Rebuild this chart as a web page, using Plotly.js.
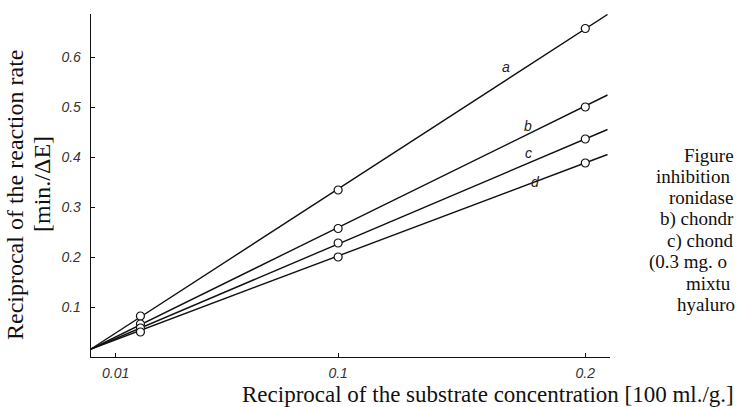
<!DOCTYPE html>
<html>
<head>
<meta charset="utf-8">
<script src="https://cdn.plot.ly/plotly-3.0.1.min.js"></script>
<style>html,body{margin:0;padding:0;background:#fff;}#chart{width:748px;height:407px;}</style>
</head>
<body>
<div id="chart"></div>
<script>
// Measured points (reciprocal substrate conc. vs reciprocal rate)
const xPoints = [0.02, 0.1, 0.2];
const seriesA = [0.082, 0.334, 0.657];
const seriesB = [0.066, 0.257, 0.500];
const seriesC = [0.058, 0.228, 0.436];
const seriesD = [0.050, 0.200, 0.388];
// Fitted straight lines (start and end of each drawn line)
const lineX = [0, 0.209];
const lineA = [0.016, 0.685];
const lineB = [0.016, 0.524];
const lineC = [0.016, 0.455];
const lineD = [0.016, 0.405];
const seriesNames = ['a', 'b', 'c', 'd'];
// label positions for the curve letters
const labelX = [0.168, 0.177, 0.177, 0.180];
const labelY = [0.580, 0.462, 0.408, 0.350];
// Tick labels
const xTickVals = [0.01, 0.1, 0.2];
const xTickText = ['0.01', '0.1', '0.2'];
const yTickVals = [0.1, 0.2, 0.3, 0.4, 0.5, 0.6];
const yTickText = ['0.1', '0.2', '0.3', '0.4', '0.5', '0.6'];
// Axis titles
const xTitle = 'Reciprocal of the substrate concentration [100 ml./g.]';
const yTitleLines = ['Reciprocal of the reaction rate', '[min./ΔE]'];
// Caption fragments visible at the right edge
const captionLines = ['Figure', 'inhibition', 'ronidase', 'b) chondr', 'c) chond', '(0.3 mg. o', 'mixtu', 'hyaluro'];
const captionX = [683, 655, 668, 659, 666, 648, 685, 676];

const lineSets = [lineA, lineB, lineC, lineD];
const pointSets = [seriesA, seriesB, seriesC, seriesD];

const tickFont = {family: '"Liberation Sans", Arimo, sans-serif', size: 14, color: '#333', style: 'italic'};
const serif = '"Liberation Serif", "DejaVu Serif", serif';

const traces = [];
lineSets.forEach((ly, i) => {
  traces.push({x: lineX, y: ly, mode: 'lines', type: 'scatter', name: seriesNames[i] + ' fit',
    line: {color: '#111', width: 1.4}, hoverinfo: 'skip', showlegend: false});
});
pointSets.forEach((py, i) => {
  traces.push({x: xPoints, y: py, mode: 'markers', type: 'scatter', name: seriesNames[i],
    marker: {symbol: 'circle', size: 8, color: '#fff', line: {color: '#111', width: 1.2}}, showlegend: false});
});

const L = 91, R = 138, T = 14, B = 50, W = 748, H = 407;
const pw = W - L - R, ph = H - T - B;
const px2x = p => (p - L) / pw;
const py2y = p => (T + ph - p) / ph;
const annotations = [];
seriesNames.forEach((n, i) => {
  annotations.push({x: labelX[i], y: labelY[i], xref: 'x', yref: 'y', text: n, showarrow: false,
    font: {family: tickFont.family, size: 14, color: '#222', style: 'italic'}});
});
// x axis title
annotations.push({x: px2x(488), y: py2y(394), xref: 'paper', yref: 'paper',
  text: xTitle, showarrow: false,
  xanchor: 'center', yanchor: 'middle', font: {family: serif, size: 23, color: '#111'}});
// y axis title (two rotated lines)
annotations.push({x: px2x(15), y: py2y(195), xref: 'paper', yref: 'paper', text: yTitleLines[0],
  showarrow: false, textangle: -90, xanchor: 'center', yanchor: 'middle',
  font: {family: serif, size: 24, color: '#111'}});
annotations.push({x: px2x(42), y: py2y(184), xref: 'paper', yref: 'paper', text: yTitleLines[1],
  showarrow: false, textangle: -90, xanchor: 'center', yanchor: 'middle',
  font: {family: serif, size: 24, color: '#111'}});
captionLines.forEach((t, i) => {
  const py = 155 + 21.4 * i;
  annotations.push({x: px2x(captionX[i]), y: py2y(py), xref: 'paper', yref: 'paper',
    text: t, showarrow: false, xanchor: 'left', yanchor: 'middle', borderpad: 0,
    font: {family: serif, size: 19, color: '#111'}});
});

const layout = {
  width: W, height: H,
  margin: {l: L, r: R, t: T, b: B, pad: 0},
  paper_bgcolor: '#fff', plot_bgcolor: '#fff',
  showlegend: false,
  xaxis: {range: [0, 0.21], showgrid: false, zeroline: false, showline: true, linecolor: '#111', linewidth: 1.3,
    ticks: 'inside', ticklen: 4, tickwidth: 1, tickcolor: '#111', tickvals: xTickVals, ticktext: xTickText,
    tickfont: tickFont, ticklabelstandoff: 3},
  yaxis: {range: [0, 0.686], showgrid: false, zeroline: false, showline: true, linecolor: '#111', linewidth: 1.3,
    ticks: 'inside', ticklen: 4, tickwidth: 1, tickcolor: '#111', tickvals: yTickVals, ticktext: yTickText,
    tickfont: tickFont, ticklabelstandoff: 6},
  annotations: annotations
};

Plotly.newPlot('chart', traces, layout, {staticPlot: true, displayModeBar: false});
</script>
</body>
</html>
